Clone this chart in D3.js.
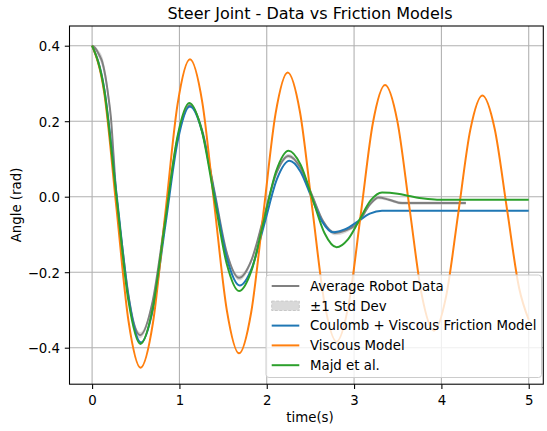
<!DOCTYPE html>
<html>
<head>
<meta charset="utf-8">
<script src="https://cdn.jsdelivr.net/npm/d3@7/dist/d3.min.js"></script>
<style>
  html, body { margin: 0; padding: 0; background: #fff; }
  svg { display: block; font-family: "DejaVu Sans", sans-serif; }
</style>
</head>
<body>
<svg id="chart" width="547" height="431"></svg>
<script>
// Steer joint free response: averaged robot data vs. three friction models.

// Averaged robot measurement (time in s, angle in rad) and its standard deviation
const dataTime = [0, 0.04, 0.08, 0.115, 0.15, 0.185, 0.216, 0.245, 0.272, 0.31, 0.344, 0.4125, 0.481, 0.55,
  0.6925, 0.835, 0.9775, 1.12, 1.261, 1.4015, 1.542, 1.683, 1.825, 1.9665, 2.108, 2.25,
  2.3825, 2.515, 2.6475, 2.78, 2.90, 3.0, 3.05, 3.18, 3.28, 3.40, 3.55, 4.28];
const dataAngle = [0.400, 0.392, 0.376, 0.358, 0.322, 0.268, 0.208, 0.112, 0.020, -0.065, -0.130, -0.255, -0.338, -0.367,
  -0.278, -0.063, 0.153, 0.242, 0.175, 0.014, -0.148, -0.215, -0.168, -0.054, 0.061, 0.108,
  0.078, 0.006, -0.066, -0.096, -0.090, -0.078, -0.068, -0.021, -0.002, -0.008, -0.017, -0.017];
const dataStd = [0.002, 0.006, 0.010, 0.014, 0.016, 0.016, 0.014, 0.010, 0.008, 0.008, 0.008, 0.008, 0.008, 0.008,
  0.007, 0.006, 0.006, 0.006, 0.006, 0.006, 0.006, 0.007, 0.006, 0.006, 0.006, 0.006,
  0.005, 0.005, 0.005, 0.006, 0.006, 0.005, 0.005, 0.005, 0.005, 0.004, 0.004, 0.004];

// Coulomb + viscous friction model
const coulombTime = [0, 0.14, 0.28, 0.42, 0.56, 0.70, 0.84, 0.98, 1.12, 1.2625, 1.405, 1.5475, 1.69,
  1.8325, 1.975, 2.1175, 2.26, 2.385, 2.51, 2.635, 2.76, 2.90, 3.04, 3.18, 3.32, 5.0];
const coulombAngle = [0.400, 0.285, 0.007, -0.271, -0.386, -0.294, -0.074, 0.147, 0.239, 0.170, 0.002, -0.166, -0.235,
  -0.187, -0.070, 0.047, 0.095, 0.067, 0.000, -0.066, -0.094, -0.086, -0.066, -0.045, -0.037, -0.037];

// Purely viscous model
const viscousTime = [0, 0.139, 0.2775, 0.416, 0.555, 0.697, 0.838, 0.979, 1.121, 1.262, 1.402, 1.543, 1.683,
  1.822, 1.962, 2.101, 2.24, 2.38, 2.52, 2.66, 2.80, 2.939, 3.078, 3.216, 3.355, 3.495, 3.635, 3.775, 3.915,
  4.054, 4.193, 4.331, 4.47, 4.61, 4.75, 4.89, 5.0];
const viscousAngle = [0.400, 0.275, -0.027, -0.328, -0.453, -0.334, -0.045, 0.245, 0.364, 0.250, -0.026, -0.301, -0.415,
  -0.306, -0.043, 0.220, 0.329, 0.225, -0.028, -0.280, -0.384, -0.284, -0.044, 0.196, 0.296, 0.201, -0.030, -0.260, -0.355,
  -0.264, -0.044, 0.177, 0.268, 0.180, -0.031, -0.242, -0.326];

// Majd et al. model
const majdTime = [0, 0.138, 0.2765, 0.415, 0.553, 0.693, 0.8335, 0.974, 1.114, 1.256, 1.3985, 1.541, 1.683,
  1.825, 1.9665, 2.108, 2.25, 2.3875, 2.525, 2.6625, 2.80, 2.93, 3.06, 3.19, 3.32, 3.5, 3.65, 3.8, 3.95, 5.0];
const majdAngle = [0.400, 0.284, 0.005, -0.274, -0.390, -0.297, -0.071, 0.155, 0.248, 0.175, -0.001, -0.177, -0.250,
  -0.196, -0.064, 0.068, 0.122, 0.085, -0.006, -0.097, -0.134, -0.113, -0.062, -0.010, 0.011, 0.008, 0.001, -0.005, -0.008, -0.008];

// Axis ticks
const xTicks = [0, 1, 2, 3, 4, 5];
const yTicks = [0.4, 0.2, 0.0, -0.2, -0.4];
const yTickLabels = ["0.4", "0.2", "0.0", "\u22120.2", "\u22120.4"];

const legendLabels = ["Average Robot Data", "\u00b11 Std Dev", "Coulomb + Viscous Friction Model", "Viscous Model", "Majd et al."];

const colors = { data: "#808080", coulomb: "#1f77b4", viscous: "#ff7f0e", majd: "#2ca02c" };

const svg = d3.select("#chart");
const plot = { left: 69.5, right: 543.3, top: 26, bottom: 384.2 };

const x = d3.scaleLinear().domain([-0.2588, 5.167]).range([plot.left, plot.right]);
const y = d3.scaleLinear().domain([-0.4967, 0.4522]).range([plot.bottom, plot.top]);

svg.append("rect").attr("width", 547).attr("height", 431).attr("fill", "#fff");

const clip = svg.append("defs").append("clipPath").attr("id", "plotClip")
  .append("rect").attr("x", plot.left).attr("y", plot.top)
  .attr("width", plot.right - plot.left).attr("height", plot.bottom - plot.top);

// Std band (under the grid)
const bandData = dataTime.map((t, i) => ({ t, lo: dataAngle[i] - dataStd[i], hi: dataAngle[i] + dataStd[i] }));
const area = d3.area().x(d => x(d.t)).y0(d => y(d.lo)).y1(d => y(d.hi)).curve(d3.curveMonotoneX);

const body = svg.append("g").attr("clip-path", "url(#plotClip)");
body.append("path").datum(bandData).attr("d", area)
  .attr("fill", "#808080").attr("fill-opacity", 0.3).attr("stroke", "none");

// Grid
const grid = body.append("g");
grid.selectAll("line.gx").data(xTicks).join("line")
  .attr("x1", d => x(d)).attr("x2", d => x(d)).attr("y1", plot.top).attr("y2", plot.bottom)
  .attr("stroke", "#b0b0b0").attr("stroke-width", 1.07);
grid.selectAll("line.gy").data(yTicks).join("line")
  .attr("y1", d => y(d)).attr("y2", d => y(d)).attr("x1", plot.left).attr("x2", plot.right)
  .attr("stroke", "#b0b0b0").attr("stroke-width", 1.07);

// Series lines
const line = d3.line().x(d => x(d[0])).y(d => y(d[1])).curve(d3.curveMonotoneX);
const series = [
  { t: dataTime, v: dataAngle, c: colors.data, w: 2.0 },
  { t: coulombTime, v: coulombAngle, c: colors.coulomb, w: 2.0 },
  { t: viscousTime, v: viscousAngle, c: colors.viscous, w: 2.0 },
  { t: majdTime, v: majdAngle, c: colors.majd, w: 2.0 }
];
series.forEach(s => {
  body.append("path").datum(s.t.map((t, i) => [t, s.v[i]])).attr("d", line)
    .attr("fill", "none").attr("stroke", s.c).attr("stroke-width", s.w)
    .attr("stroke-linejoin", "round").attr("stroke-linecap", "butt");
});

// Axes
const fs = 13.33;
const xAxis = svg.append("g").attr("transform", `translate(0,${plot.bottom})`)
  .call(d3.axisBottom(x).tickValues(xTicks).tickFormat(d3.format("d")).tickSize(4.7).tickPadding(6.3));
const yAxis = svg.append("g").attr("transform", `translate(${plot.left},0)`)
  .call(d3.axisLeft(y).tickValues(yTicks).tickFormat((d, i) => yTickLabels[i]).tickSize(4.7).tickPadding(4.8));
[xAxis, yAxis].forEach(g => {
  g.select(".domain").remove();
  g.selectAll(".tick line").attr("stroke", "#000").attr("stroke-width", 1.07);
  g.selectAll(".tick text").attr("fill", "#000").attr("font-size", fs).attr("font-family", "DejaVu Sans");
});
yAxis.selectAll(".tick text").attr("dy", "0.36em");

// Frame
svg.append("rect").attr("x", plot.left).attr("y", plot.top)
  .attr("width", plot.right - plot.left).attr("height", plot.bottom - plot.top)
  .attr("fill", "none").attr("stroke", "#000").attr("stroke-width", 1.07);

// Titles
svg.append("text").attr("x", 310).attr("y", 19).attr("text-anchor", "middle")
  .attr("font-size", 16).text("Steer Joint - Data vs Friction Models");
svg.append("text").attr("x", 310).attr("y", 421.5).attr("text-anchor", "middle")
  .attr("font-size", fs).text("time(s)");
svg.append("text").attr("transform", "translate(20.5,205) rotate(-90)").attr("text-anchor", "middle")
  .attr("font-size", fs).text("Angle (rad)");

// Legend
const lg = svg.append("g");
lg.append("rect").attr("x", 266).attr("y", 275).attr("width", 275.5).attr("height", 102.5)
  .attr("rx", 3).attr("fill", "#fff").attr("fill-opacity", 0.8)
  .attr("stroke", "#cccccc").attr("stroke-width", 1);
const rowY = [286, 305.8, 325.6, 345.4, 365.2];
const handleColors = [colors.data, null, colors.coulomb, colors.viscous, colors.majd];
legendLabels.forEach((lab, i) => {
  if (handleColors[i]) {
    lg.append("line").attr("x1", 271.7).attr("x2", 299.3).attr("y1", rowY[i]).attr("y2", rowY[i])
      .attr("stroke", handleColors[i]).attr("stroke-width", 2);
  } else {
    lg.append("rect").attr("x", 271.7).attr("y", rowY[i] - 4.7).attr("width", 27.6).attr("height", 9.4)
      .attr("fill", "#808080").attr("fill-opacity", 0.3)
      .attr("stroke", "#c8c8c8").attr("stroke-width", 1).attr("stroke-dasharray", "3,1.5");
  }
  lg.append("text").attr("x", 310).attr("y", rowY[i] + 4.7).attr("font-size", fs).text(lab);
});
</script>
</body>
</html>
